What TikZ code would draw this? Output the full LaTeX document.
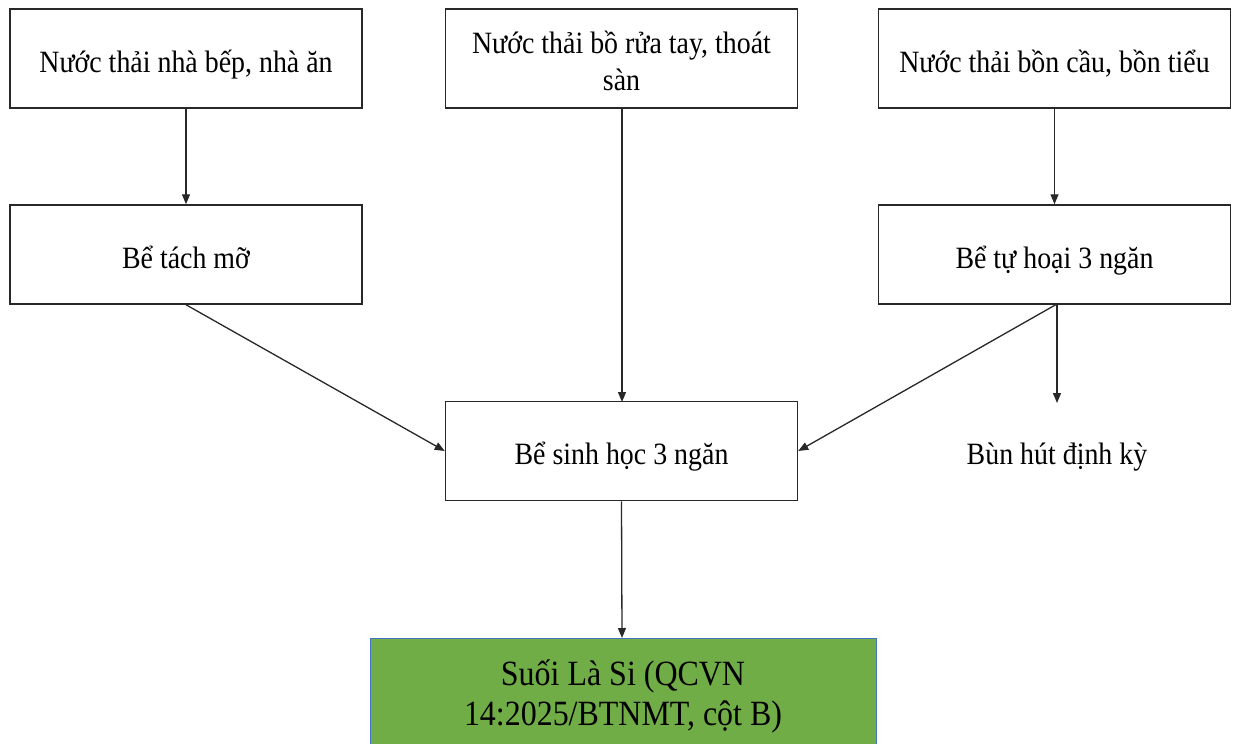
\documentclass[tikz,border=0pt]{standalone}
\usepackage{fontspec}
\setmainfont[FakeStretch=0.9]{Liberation Serif}
\usetikzlibrary{arrows.meta}
\definecolor{boxline}{RGB}{40,40,40}
\definecolor{riverfill}{RGB}{112,173,71}
\definecolor{riverline}{RGB}{68,114,196}
\begin{document}
\begin{tikzpicture}[x=1pt,y=-1pt,
  stepbox/.style={draw=boxline,line width=1.5pt,fill=white,minimum width=352pt,minimum height=99pt,inner sep=0pt},
  txt/.style={anchor=base,inner sep=0pt,align=center,font=\fontsize{31}{37}\selectfont},
  bigtxt/.style={txt,font=\fontsize{35.5}{39.5}\selectfont},
  flow/.style={draw=boxline,line width=1.3pt,-{Triangle[length=10pt,width=8pt]}}]
  \useasboundingbox (0,0) rectangle (1237,744);
  \fill[white] (0,0) rectangle (1237,744);

  % boxes
  \node[stepbox] (kitchen) at (186,58.5) {};
  \node[stepbox] (sink) at (621.5,58.5) {};
  \node[stepbox] (toilet) at (1054.5,58.5) {};
  \node[stepbox] (grease) at (186,254.5) {};
  \node[stepbox] (septic) at (1054.5,254.5) {};
  \node[stepbox] (bio) at (621.5,451) {};
  \draw[fill=riverfill,draw=riverline,line width=1pt] (370,638) rectangle (876,760);

  % box texts (base anchor = baseline of the last line)
  \node[txt] (kitchentxt) at (186,72) {Nước thải nhà bếp, nhà ăn};
  \node[txt] (sinktxt) at (621.5,90) {Nước thải bồ rửa tay, thoát\\sàn};
  \node[txt] (toilettxt) at (1054.5,72) {Nước thải bồn cầu, bồn tiểu};
  \node[txt] (greasetxt) at (186,268) {Bể tách mỡ};
  \node[txt] (septictxt) at (1054.5,268) {Bể tự hoại 3 ngăn};
  \node[txt] (biotxt) at (621.5,464) {Bể sinh học 3 ngăn};
  \node[txt] (sludge) at (1057,464) {Bùn hút định kỳ};
  \node[bigtxt] (river) at (623,725) {Suối Là Si (QCVN\\14:2025/BTNMT, cột B)};

  \coordinate (rivertop) at (622,638);
  \coordinate (sludgetop) at (1057,403);
  \coordinate (sinkout) at (622,108);
  \coordinate (bioin) at (622,402);
  \coordinate (septicout) at (1057,304);

  % connectors
  \draw[flow] (kitchen.south) -- (grease.north);
  \draw[flow] (sinkout) -- (bioin);
  \draw[flow] (toilet.south) -- (septic.north);
  \draw[flow] (grease.south) -- (bio.west);
  \draw[flow] (septicout) -- (bio.east);
  \draw[flow] (septicout) -- (sludgetop);
  \draw[flow] (bio.south) -- (rivertop);
\end{tikzpicture}
\end{document}
